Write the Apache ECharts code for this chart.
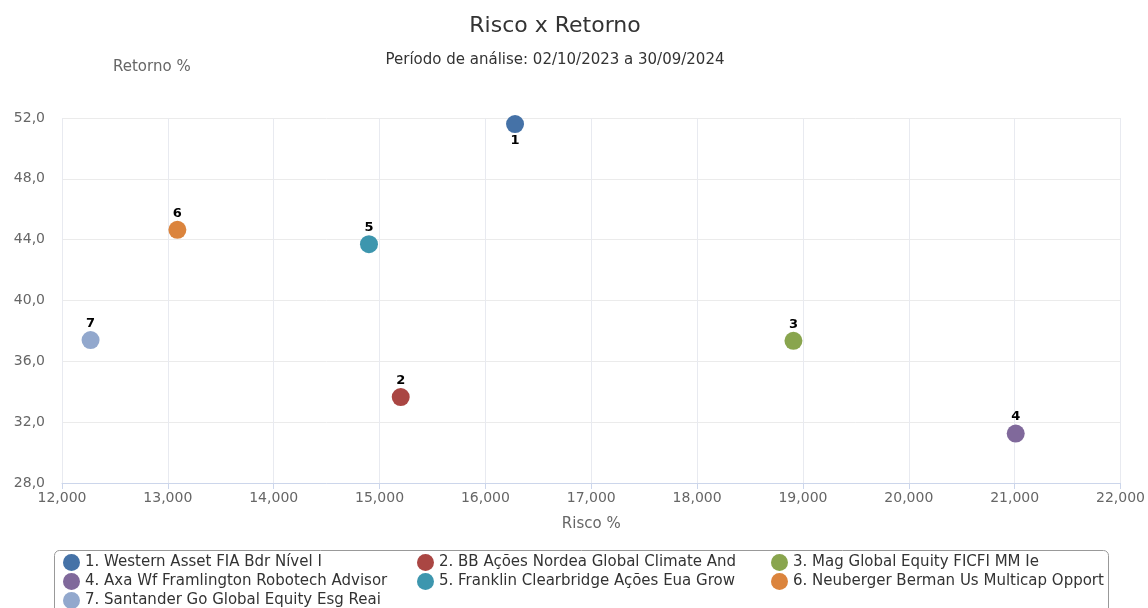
<!DOCTYPE html>
<html>
<head>
<meta charset="utf-8">
<script src="https://cdn.jsdelivr.net/npm/echarts@6/dist/echarts.min.js"></script>
<style>
  html, body { margin: 0; padding: 0; background: #fff; }
  #chart { width: 1148px; height: 608px; }
</style>
</head>
<body>
<div id="chart"></div>
<script>
var fundNames = [
    '1. Western Asset FIA Bdr Nível I',
    '2. BB Ações Nordea Global Climate And',
    '3. Mag Global Equity FICFI MM Ie',
    '4. Axa Wf Framlington Robotech Advisor',
    '5. Franklin Clearbridge Ações Eua Grow',
    '6. Neuberger Berman Us Multicap Opport',
    '7. Santander Go Global Equity Esg Reai'
];
var pointLabels = ['1', '2', '3', '4', '5', '6', '7'];
var risco = [16.28, 15.20, 18.91, 21.01, 14.90, 13.09, 12.27];
var retorno = [51.6, 33.65, 37.35, 31.25, 43.7, 44.65, 37.4];
var colors = ['#4572A7', '#AA4643', '#89A54E', '#80699B', '#3D96AE', '#DB843D', '#92A8CD'];

var font = 'DejaVu Sans';

var myChart = echarts.init(document.getElementById('chart'));

var series = fundNames.map(function (name, i) {
    return {
        name: name,
        type: 'scatter',
        symbolSize: 18,
        itemStyle: { color: colors[i], opacity: 1 },
        label: {
            show: true,
            position: i === 0 ? 'bottom' : 'top',
            distance: 1,
            formatter: pointLabels[i],
            color: '#000',
            fontWeight: 'bold',
            fontSize: 13,
            fontFamily: font
        },
        data: [[risco[i], retorno[i]]]
    };
});

var option = {
    animation: false,
    title: [
        {
            text: 'Risco x Retorno',
            left: 550,
            textAlign: 'center',
            top: 10,
            textStyle: { fontFamily: font, fontSize: 22, fontWeight: 'normal', color: '#333' }
        },
        {
            text: 'Período de análise: 02/10/2023 a 30/09/2024',
            left: 550,
            textAlign: 'center',
            top: 48,
            textStyle: { fontFamily: font, fontSize: 15, fontWeight: 'normal', color: '#333' }
        }
    ],
    graphic: [
        {
            type: 'rect',
            left: 52,
            top: 548,
            shape: { width: 1054, height: 75, r: 5 },
            style: { fill: 'none', stroke: '#999', lineWidth: 1 },
            silent: true
        }
    ],
    grid: { left: 62, right: 26, top: 118, bottom: 125 },
    xAxis: {
        type: 'value',
        min: 12,
        max: 22,
        interval: 1,
        name: 'Risco %',
        nameLocation: 'middle',
        nameGap: 34,
        nameTextStyle: { fontFamily: font, fontSize: 15, color: '#666' },
        axisLine: { show: true, lineStyle: { color: '#ccd6eb' } },
        axisTick: { show: true, length: 6, lineStyle: { color: '#ccd6eb' } },
        axisLabel: {
            margin: 8,
            color: '#666',
            fontFamily: font,
            fontSize: 14,
            formatter: function (v) { return v.toFixed(3).replace('.', ','); }
        },
        splitLine: { show: true, lineStyle: { color: '#e8eaf0' } }
    },
    yAxis: {
        type: 'value',
        min: 28,
        max: 52,
        interval: 4,
        name: 'Retorno %',
        nameLocation: 'end',
        nameGap: 43,
        nameTextStyle: { fontFamily: font, fontSize: 15, color: '#666', align: 'left', padding: [0, 0, 0, 51] },
        axisLine: { show: false },
        axisTick: { show: false },
        axisLabel: {
            margin: 17,
            color: '#666',
            fontFamily: font,
            fontSize: 14,
            formatter: function (v) { return v.toFixed(1).replace('.', ','); }
        },
        splitLine: { show: true, lineStyle: { color: '#ebebeb' } }
    },
    legend: {
        left: 53,
        top: 547,
        width: 1060,
        orient: 'horizontal',
        padding: [7, 10, 8, 10],
        itemGap: 2,
        itemWidth: 17,
        itemHeight: 17,
        icon: 'circle',
        textStyle: {
            fontFamily: font,
            fontSize: 15,
            color: '#333',
            width: 330,
            lineHeight: 16,
            overflow: 'none'
        },
        data: fundNames
    },
    series: series
};

myChart.setOption(option);
</script>
</body>
</html>
